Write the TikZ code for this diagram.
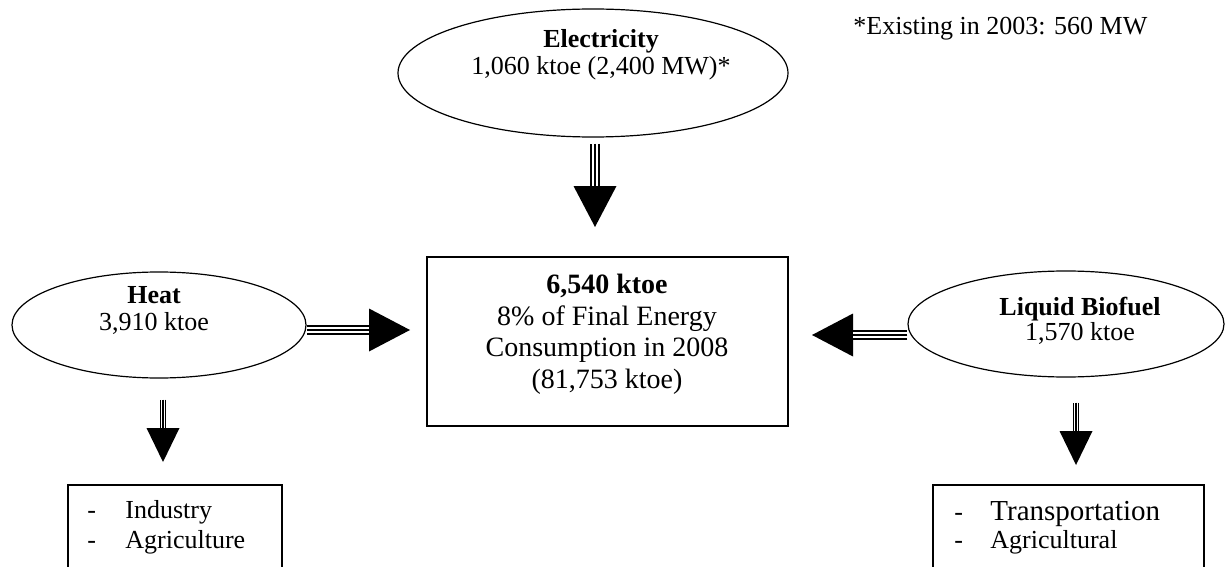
\documentclass[tikz,border=0pt]{standalone}
\usepackage{fontspec}
\setmainfont{Liberation Serif}
\usetikzlibrary{shapes.geometric, arrows.meta}

\tikzset{
  bigfeed/.style={line width=5pt, -{Triangle[length=20.5pt,width=21.5pt,line width=0pt]},
    postaction={draw=white, line width=3pt, -, shorten >=20.5pt},
    postaction={draw=black, line width=1.1pt, -, shorten >=20.5pt}},
  smallfeed/.style={line width=3pt, -{Triangle[length=17pt,width=16.5pt,line width=0pt]},
    postaction={draw=white, line width=1.8pt, -, shorten >=17pt},
    postaction={draw=black, line width=0.7pt, -, shorten >=17pt}},
  source/.style={draw, ellipse, line width=0.6pt, inner sep=0pt},
  sink/.style={draw, rectangle, line width=0.8pt, inner sep=0pt},
  words/.style={align=center, inner sep=0pt, anchor=base, font=\fontsize{13}{13.5}\selectfont},
  uses/.style={align=left, inner sep=0pt, anchor=base west}
}

\begin{document}
\begin{tikzpicture}[x=0.5pt, y=-0.5pt]
    \useasboundingbox (0,0) rectangle (1226,567);
    \clip (0,0) rectangle (1226,567);

    % the three sources
    \node[source, minimum width=195pt, minimum height=64pt] (elec) at (593,73) {};
    \node[source, minimum width=147pt, minimum height=53pt] (heat) at (159,325) {};
    \node[source, minimum width=158pt, minimum height=53pt] (fuel) at (1066,324) {};

    % (base of a text block = its last line)
    \node[words] (electxt) at (601,75) {\textbf{Electricity}\\1,060 ktoe (2,400 MW)*};
    \node[words] (heattxt) at (154,330) {\textbf{Heat}\\3,910 ktoe};
    \node[words, font=\fontsize{13}{12.5}\selectfont] (fueltxt) at (1080,340) {\textbf{Liquid Biofuel}\\1,570 ktoe};

    % total in the middle
    \node[sink, minimum width=180.5pt, minimum height=84.5pt] (total) at (607.5,341.5) {};
    \node[words, font=\fontsize{14}{15.7}\selectfont] (totaltxt) at (607,388)
        {\textbf{6,540 ktoe}\\8\% of Final Energy\\Consumption in 2008\\(81,753 ktoe)};

    % where heat and biofuel go (cut off at the bottom)
    \node[sink, anchor=north west, minimum width=107pt, minimum height=70pt] (heatuse) at (67,484) {};
    \node[sink, anchor=north west, minimum width=135.5pt, minimum height=70pt] (fueluse) at (932,484) {};

    \node[uses, font=\fontsize{13}{15}\selectfont] (heatlist) at (87,548)
        {\makebox[19pt][l]{-}Industry\\\makebox[19pt][l]{-}Agriculture};
    \node[uses, font=\fontsize{13}{14}\selectfont] (fuellist) at (954,548)
        {\makebox[18pt][l]{-}{\fontsize{14.5}{14}\selectfont Transportation}\\\makebox[18pt][l]{-}Agricultural};

    % footnote
    \node[anchor=base west, inner sep=0pt, font=\fontsize{13}{14}\selectfont] (note) at (853,35) {*Existing in 2003: 560 MW};

    % arrow ends
    \coordinate (elecend) at (595,227);
    \coordinate (heatend) at (410,330);
    \coordinate (fuelend) at (812,335);
    \coordinate (heatdown) at (163,462);
    \coordinate (fueldown) at (1076,465);

    % triple-line arrows
    \draw[bigfeed, shorten <=3pt] (elecend |- elec.south) -- (elecend);
    \draw[bigfeed] (heat.east |- heatend) -- (heatend);
    \draw[bigfeed] (fuel.west |- fuelend) -- (fuelend);
    \draw[smallfeed, shorten <=10.5pt] (heatdown |- heat.south) -- (heatdown);
    \draw[smallfeed, shorten <=12.5pt] (fueldown |- fuel.south) -- (fueldown);

\end{tikzpicture}
\end{document}
